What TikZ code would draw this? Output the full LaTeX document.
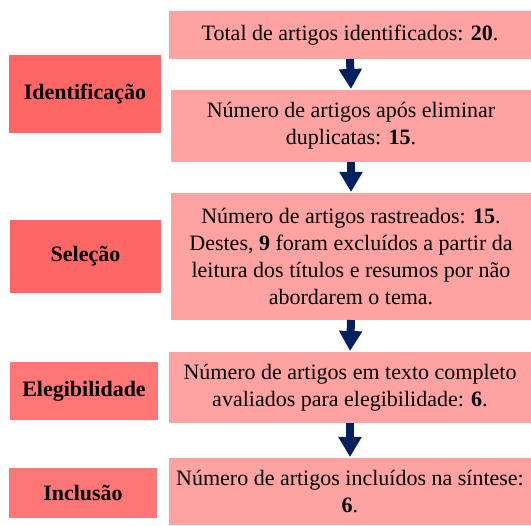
\documentclass[tikz,border=0pt]{standalone}
\usepackage{fontspec}
\setmainfont{Liberation Serif}
\usetikzlibrary{arrows.meta}
\definecolor{boxpink}{HTML}{FFA2A2}
\definecolor{stagered}{HTML}{FF6666}
\definecolor{stagelight}{HTML}{FF7676}
\definecolor{navy}{HTML}{002060}
\begin{document}
\begin{tikzpicture}[x=1pt,y=-1pt,
  every node/.style={inner sep=0pt,outer sep=0pt,font=\fontsize{22}{27}\selectfont,align=center},
  infobox/.style={fill=boxpink},
  stagebox/.style={fill=stagered,font=\fontsize{22}{27}\selectfont\bfseries},
  stageboxl/.style={fill=stagelight,font=\fontsize{22}{27}\selectfont\bfseries},
  flowarrow/.style={navy,line width=8pt,-{Triangle[width=22pt,length=20pt]},shorten >=1pt}]
\useasboundingbox (0,0) rectangle (531,526);
\node[infobox,minimum width=362pt,minimum height=48pt] (b1) at (350,35) {Total de artigos identificados: \textbf{20}.};
\node[infobox,minimum width=360pt,minimum height=72pt] (b2) at (351,126) {Número de artigos após eliminar\\duplicatas: \textbf{15}.};
\node[infobox,minimum width=360pt,minimum height=127pt] (b3) at (351,256.5) {Número de artigos rastreados: \textbf{15}.\\Destes, \textbf{9} foram excluídos a partir da\\leitura dos títulos e resumos por não\\abordarem o tema.};
\node[infobox,minimum width=362pt,minimum height=71pt] (b4) at (350,387.5) {Número de artigos em texto completo\\avaliados para elegibilidade: \textbf{6}.};
\node[infobox,minimum width=362pt,minimum height=67pt] (b5) at (350,491.5) {Número de artigos incluídos na síntese:\\\textbf{6}.};
\node[stagebox,minimum width=152pt,minimum height=78pt] (s1) at (85,94) {Identificação};
\node[stagebox,minimum width=151pt,minimum height=73pt] (s2) at (85.5,256.5) {Seleção};
\node[stageboxl,minimum width=148pt,minimum height=58pt] (s3) at (84,391) {Elegibilidade};
\node[stageboxl,minimum width=148pt,minimum height=50pt] (s4) at (83,493) {Inclusão};
\draw[flowarrow] (b1.south) -- (b2.north);
\draw[flowarrow] (b2.south) -- (b3.north);
\draw[flowarrow] (b3.south) -- (b4.north);
\draw[flowarrow] (b4.south) -- (b5.north);
\end{tikzpicture}
\end{document}
